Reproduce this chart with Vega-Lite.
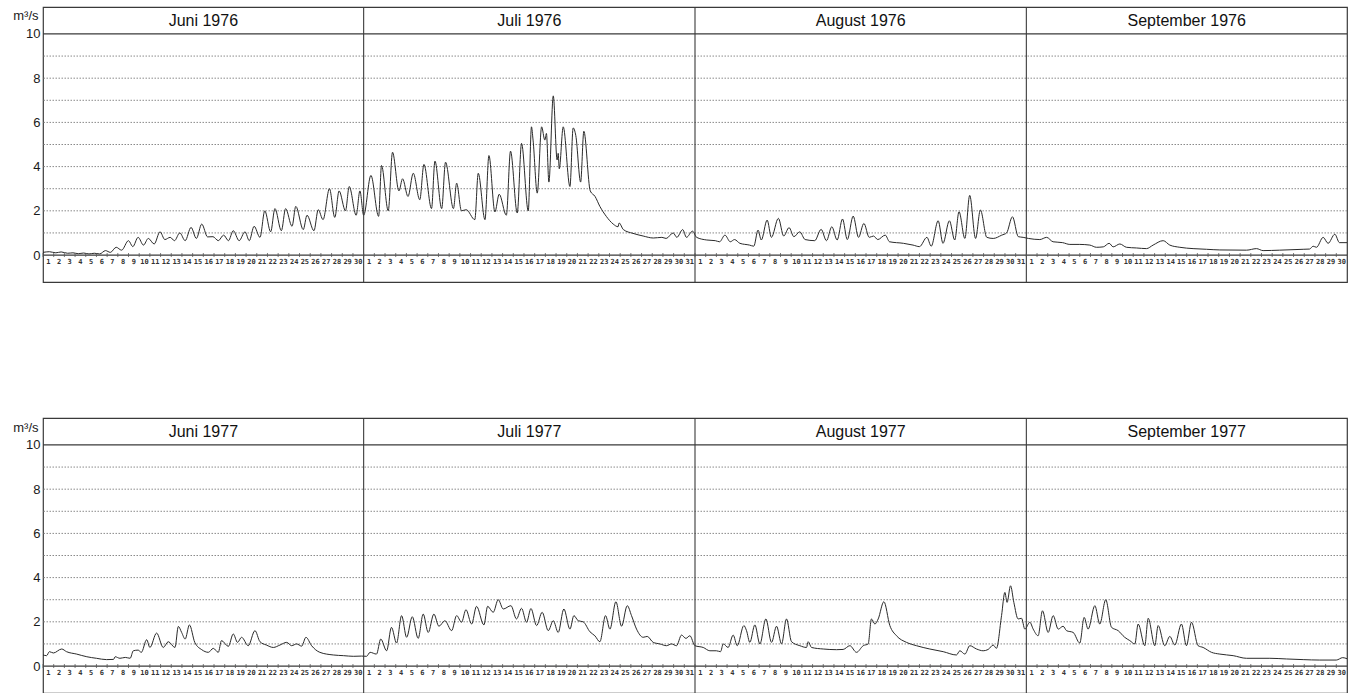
{
  "$schema": "https://vega.github.io/schema/vega-lite/v6.json",
  "background": "white",
  "padding": {"left": 12, "top": 5, "right": 0, "bottom": 0},
  "spacing": 136,
  "bounds": "flush",
  "config": {
    "view": {"stroke": "#3a3a3a", "strokeWidth": 1.2},
    "font": "Liberation Sans"
  },
  "datasets": {
    "tage": [
      {"d":0,"n":1},{"d":1,"n":2},{"d":2,"n":3},{"d":3,"n":4},{"d":4,"n":5},{"d":5,"n":6},{"d":6,"n":7},{"d":7,"n":8},{"d":8,"n":9},{"d":9,"n":10},
      {"d":10,"n":11},{"d":11,"n":12},{"d":12,"n":13},{"d":13,"n":14},{"d":14,"n":15},{"d":15,"n":16},{"d":16,"n":17},{"d":17,"n":18},{"d":18,"n":19},{"d":19,"n":20},
      {"d":20,"n":21},{"d":21,"n":22},{"d":22,"n":23},{"d":23,"n":24},{"d":24,"n":25},{"d":25,"n":26},{"d":26,"n":27},{"d":27,"n":28},{"d":28,"n":29},{"d":29,"n":30},
      {"d":30,"n":1},{"d":31,"n":2},{"d":32,"n":3},{"d":33,"n":4},{"d":34,"n":5},{"d":35,"n":6},{"d":36,"n":7},{"d":37,"n":8},{"d":38,"n":9},{"d":39,"n":10},
      {"d":40,"n":11},{"d":41,"n":12},{"d":42,"n":13},{"d":43,"n":14},{"d":44,"n":15},{"d":45,"n":16},{"d":46,"n":17},{"d":47,"n":18},{"d":48,"n":19},{"d":49,"n":20},
      {"d":50,"n":21},{"d":51,"n":22},{"d":52,"n":23},{"d":53,"n":24},{"d":54,"n":25},{"d":55,"n":26},{"d":56,"n":27},{"d":57,"n":28},{"d":58,"n":29},{"d":59,"n":30},{"d":60,"n":31},
      {"d":61,"n":1},{"d":62,"n":2},{"d":63,"n":3},{"d":64,"n":4},{"d":65,"n":5},{"d":66,"n":6},{"d":67,"n":7},{"d":68,"n":8},{"d":69,"n":9},{"d":70,"n":10},
      {"d":71,"n":11},{"d":72,"n":12},{"d":73,"n":13},{"d":74,"n":14},{"d":75,"n":15},{"d":76,"n":16},{"d":77,"n":17},{"d":78,"n":18},{"d":79,"n":19},{"d":80,"n":20},
      {"d":81,"n":21},{"d":82,"n":22},{"d":83,"n":23},{"d":84,"n":24},{"d":85,"n":25},{"d":86,"n":26},{"d":87,"n":27},{"d":88,"n":28},{"d":89,"n":29},{"d":90,"n":30},{"d":91,"n":31},
      {"d":92,"n":1},{"d":93,"n":2},{"d":94,"n":3},{"d":95,"n":4},{"d":96,"n":5},{"d":97,"n":6},{"d":98,"n":7},{"d":99,"n":8},{"d":100,"n":9},{"d":101,"n":10},
      {"d":102,"n":11},{"d":103,"n":12},{"d":104,"n":13},{"d":105,"n":14},{"d":106,"n":15},{"d":107,"n":16},{"d":108,"n":17},{"d":109,"n":18},{"d":110,"n":19},{"d":111,"n":20},
      {"d":112,"n":21},{"d":113,"n":22},{"d":114,"n":23},{"d":115,"n":24},{"d":116,"n":25},{"d":117,"n":26},{"d":118,"n":27},{"d":119,"n":28},{"d":120,"n":29},{"d":121,"n":30}
    ],
    "monatsgrenzen": [{"d":30},{"d":61},{"d":92}],
    "randlinien": [{"q":0},{"q":10}],
    "gitter": [{"q":1},{"q":2},{"q":3},{"q":4},{"q":5},{"q":6},{"q":7},{"q":8},{"q":9}],
    "monate1976": [
      {"t":"Juni 1976","d":15},{"t":"Juli 1976","d":45.5},{"t":"August 1976","d":76.5},{"t":"September 1976","d":107}
    ],
    "monate1977": [
      {"t":"Juni 1977","d":15},{"t":"Juli 1977","d":45.5},{"t":"August 1977","d":76.5},{"t":"September 1977","d":107}
    ],
    "abfluss1976": [
      {"d":0,"q":0.12},{"d":0.6,"q":0.15},{"d":1.2,"q":0.1},{"d":1.7,"q":0.14},{"d":2.3,"q":0.08},{"d":2.8,"q":0.1},{"d":3.3,"q":0.06},{"d":3.8,"q":0.09},{"d":4.3,"q":0.05},{"d":4.8,"q":0.08},
      {"d":5.3,"q":0.05},{"d":5.85,"q":0.2},{"d":6.3,"q":0.12},{"d":6.85,"q":0.35},{"d":7.35,"q":0.22},{"d":8.0,"q":0.65},{"d":8.4,"q":0.38},{"d":8.9,"q":0.8},{"d":9.4,"q":0.45},{"d":9.85,"q":0.75},
      {"d":10.4,"q":0.5},{"d":10.95,"q":1.05},{"d":11.4,"q":0.7},{"d":11.9,"q":0.8},{"d":12.3,"q":0.65},{"d":12.8,"q":1.0},{"d":13.3,"q":0.65},{"d":13.85,"q":1.25},{"d":14.35,"q":0.75},{"d":14.85,"q":1.4},
      {"d":15.4,"q":0.82},{"d":15.9,"q":0.83},{"d":16.4,"q":0.65},{"d":16.9,"q":0.9},{"d":17.35,"q":0.65},{"d":17.8,"q":1.1},{"d":18.35,"q":0.65},{"d":18.9,"q":1.05},{"d":19.3,"q":0.65},{"d":19.75,"q":1.3},
      {"d":20.3,"q":0.8},{"d":20.75,"q":2.0},{"d":21.3,"q":1.05},{"d":21.7,"q":2.1},{"d":22.3,"q":1.1},{"d":22.7,"q":2.1},{"d":23.3,"q":1.3},{"d":23.65,"q":2.2},{"d":24.35,"q":1.15},{"d":24.7,"q":1.8},
      {"d":25.35,"q":1.1},{"d":25.75,"q":2.05},{"d":26.2,"q":1.6},{"d":26.8,"q":3.0},{"d":27.3,"q":1.7},{"d":27.7,"q":2.9},{"d":28.3,"q":2.0},{"d":28.65,"q":3.1},{"d":29.3,"q":1.8},{"d":29.65,"q":2.9},
      {"d":30.0,"q":1.8},{"d":30.68,"q":3.6},{"d":31.4,"q":1.75},{"d":31.67,"q":4.05},{"d":32.3,"q":2.0},{"d":32.7,"q":4.65},{"d":33.3,"q":2.9},{"d":33.64,"q":3.45},{"d":34.15,"q":2.65},{"d":34.64,"q":3.7},
      {"d":35.25,"q":2.5},{"d":35.64,"q":4.1},{"d":36.35,"q":2.1},{"d":36.67,"q":4.25},{"d":37.3,"q":2.1},{"d":37.66,"q":4.2},{"d":38.4,"q":2.1},{"d":38.7,"q":3.25},{"d":39.15,"q":2.0},{"d":39.6,"q":2.05},
      {"d":40.4,"q":1.6},{"d":40.72,"q":3.7},{"d":41.35,"q":1.6},{"d":41.72,"q":4.5},{"d":42.28,"q":1.95},{"d":42.68,"q":2.75},{"d":43.35,"q":1.8},{"d":43.74,"q":4.7},{"d":44.37,"q":1.9},{"d":44.77,"q":5.05},
      {"d":45.4,"q":2.0},{"d":45.7,"q":5.8},{"d":45.85,"q":5.2},{"d":46.24,"q":2.8},{"d":46.65,"q":5.8},{"d":46.95,"q":5.2},{"d":47.1,"q":5.5},{"d":47.33,"q":3.3},{"d":47.74,"q":7.2},{"d":48.1,"q":4.3},
      {"d":48.2,"q":4.6},{"d":48.3,"q":3.9},{"d":48.67,"q":5.8},{"d":49.3,"q":3.1},{"d":49.6,"q":5.75},{"d":49.85,"q":5.4},{"d":50.3,"q":3.3},{"d":50.6,"q":5.6},{"d":51.2,"q":2.9},{"d":51.65,"q":2.65},
      {"d":52.1,"q":2.2},{"d":52.7,"q":1.75},{"d":53.35,"q":1.4},{"d":53.8,"q":1.28},{"d":53.9,"q":1.45},{"d":54.3,"q":1.15},{"d":55.2,"q":0.98},{"d":56.15,"q":0.86},{"d":57.1,"q":0.77},{"d":57.9,"q":0.8},
      {"d":58.3,"q":0.75},{"d":58.96,"q":1.0},{"d":59.3,"q":0.8},{"d":59.85,"q":1.15},{"d":60.2,"q":0.8},{"d":60.77,"q":1.08},{"d":61.15,"q":0.8},{"d":62.1,"q":0.68},{"d":62.9,"q":0.65},{"d":63.3,"q":0.6},
      {"d":63.8,"q":0.9},{"d":64.3,"q":0.6},{"d":64.7,"q":0.7},{"d":65.2,"q":0.53},{"d":66.1,"q":0.45},{"d":66.5,"q":0.4},{"d":66.9,"q":1.13},{"d":67.2,"q":0.68},{"d":67.75,"q":1.58},{"d":68.15,"q":0.8},
      {"d":68.8,"q":1.66},{"d":69.3,"q":0.86},{"d":69.8,"q":1.24},{"d":70.25,"q":0.83},{"d":70.8,"q":1.05},{"d":71.3,"q":0.7},{"d":72.2,"q":0.65},{"d":72.8,"q":1.16},{"d":73.3,"q":0.65},{"d":73.8,"q":1.28},
      {"d":74.3,"q":0.68},{"d":74.8,"q":1.63},{"d":75.25,"q":0.7},{"d":75.8,"q":1.76},{"d":76.3,"q":0.8},{"d":76.8,"q":1.43},{"d":77.3,"q":0.8},{"d":77.7,"q":0.86},{"d":78.1,"q":0.7},{"d":78.8,"q":0.9},
      {"d":79.2,"q":0.6},{"d":80.5,"q":0.53},{"d":81.4,"q":0.45},{"d":82.0,"q":0.38},{"d":82.7,"q":0.8},{"d":83.1,"q":0.4},{"d":83.75,"q":1.55},{"d":84.2,"q":0.53},{"d":84.8,"q":1.55},{"d":85.3,"q":0.68},
      {"d":85.7,"q":1.96},{"d":86.25,"q":0.75},{"d":86.7,"q":2.7},{"d":87.25,"q":0.75},{"d":87.7,"q":2.04},{"d":88.3,"q":0.8},{"d":88.9,"q":0.75},{"d":89.7,"q":0.9},{"d":90.15,"q":1.0},{"d":90.7,"q":1.73},
      {"d":91.25,"q":0.83},{"d":91.7,"q":0.8},{"d":92.2,"q":0.75},{"d":93.26,"q":0.7},{"d":93.9,"q":0.8},{"d":94.5,"q":0.6},{"d":95.4,"q":0.56},{"d":96.07,"q":0.48},{"d":97.0,"q":0.48},{"d":97.94,"q":0.45},
      {"d":98.56,"q":0.35},{"d":99.2,"q":0.37},{"d":99.75,"q":0.53},{"d":100.12,"q":0.37},{"d":100.75,"q":0.5},{"d":101.37,"q":0.35},{"d":102.3,"q":0.32},{"d":103.24,"q":0.29},{"d":103.86,"q":0.45},{"d":104.8,"q":0.65},
      {"d":105.42,"q":0.45},{"d":106.36,"q":0.35},{"d":107.6,"q":0.29},{"d":108.85,"q":0.26},{"d":110.1,"q":0.23},{"d":112.6,"q":0.22},{"d":113.53,"q":0.29},{"d":114.15,"q":0.2},{"d":115.7,"q":0.22},{"d":117.9,"q":0.26},
      {"d":118.5,"q":0.27},{"d":118.83,"q":0.4},{"d":119.14,"q":0.35},{"d":119.77,"q":0.8},{"d":120.23,"q":0.53},{"d":120.86,"q":0.94},{"d":121.3,"q":0.56},{"d":122.0,"q":0.56}
    ],
    "abfluss1977": [
      {"d":0,"q":0.5},{"d":0.34,"q":0.47},{"d":0.6,"q":0.65},{"d":0.97,"q":0.59},{"d":1.75,"q":0.77},{"d":2.2,"q":0.65},{"d":3.15,"q":0.54},{"d":4.1,"q":0.42},{"d":5.0,"q":0.35},{"d":5.95,"q":0.29},
      {"d":6.6,"q":0.3},{"d":6.75,"q":0.42},{"d":7.2,"q":0.35},{"d":7.7,"q":0.39},{"d":8.15,"q":0.35},{"d":8.45,"q":0.69},{"d":8.9,"q":0.72},{"d":9.2,"q":0.62},{"d":9.7,"q":1.19},{"d":10.0,"q":0.84},
      {"d":10.63,"q":1.49},{"d":11.25,"q":0.84},{"d":11.72,"q":1.1},{"d":12.35,"q":0.84},{"d":12.66,"q":1.79},{"d":12.97,"q":1.52},{"d":13.3,"q":1.22},{"d":13.7,"q":1.86},{"d":14.2,"q":1.07},{"d":14.85,"q":0.74},
      {"d":15.47,"q":0.62},{"d":15.93,"q":0.8},{"d":16.4,"q":0.62},{"d":16.7,"q":1.15},{"d":17.34,"q":0.89},{"d":17.8,"q":1.45},{"d":18.2,"q":1.07},{"d":18.58,"q":1.3},{"d":19.2,"q":0.92},{"d":19.83,"q":1.6},
      {"d":20.3,"q":1.1},{"d":20.9,"q":0.95},{"d":21.55,"q":0.84},{"d":22.17,"q":0.95},{"d":22.8,"q":1.07},{"d":23.26,"q":0.92},{"d":23.73,"q":1.0},{"d":24.2,"q":0.9},{"d":24.6,"q":1.3},{"d":25.13,"q":0.92},
      {"d":25.9,"q":0.62},{"d":27.16,"q":0.5},{"d":28.1,"q":0.47},{"d":29.03,"q":0.44},{"d":29.8,"q":0.45},{"d":30.27,"q":0.44},{"d":30.6,"q":0.62},{"d":31.2,"q":0.54},{"d":31.6,"q":1.22},{"d":32.15,"q":0.69},
      {"d":32.6,"q":1.75},{"d":33.08,"q":1.04},{"d":33.55,"q":2.28},{"d":34.02,"q":1.3},{"d":34.55,"q":2.23},{"d":35.1,"q":1.25},{"d":35.57,"q":2.35},{"d":36.04,"q":1.52},{"d":36.57,"q":2.35},{"d":37.04,"q":1.8},
      {"d":37.6,"q":2.05},{"d":38.23,"q":1.6},{"d":38.7,"q":2.28},{"d":39.16,"q":1.98},{"d":39.57,"q":2.55},{"d":40.1,"q":1.9},{"d":40.56,"q":2.7},{"d":41.25,"q":1.86},{"d":41.6,"q":2.7},{"d":42.12,"q":2.43},
      {"d":42.59,"q":3.0},{"d":43.06,"q":2.58},{"d":43.78,"q":2.73},{"d":44.3,"q":2.13},{"d":44.77,"q":2.61},{"d":45.24,"q":1.98},{"d":45.65,"q":2.6},{"d":46.18,"q":1.83},{"d":46.7,"q":2.43},{"d":47.27,"q":1.6},
      {"d":47.74,"q":2.05},{"d":48.2,"q":1.52},{"d":48.73,"q":2.58},{"d":49.3,"q":1.67},{"d":49.67,"q":2.28},{"d":50.07,"q":2.05},{"d":50.54,"q":2.0},{"d":51.17,"q":1.55},{"d":51.63,"q":1.37},{"d":52.1,"q":1.1},
      {"d":52.63,"q":2.28},{"d":53.04,"q":1.67},{"d":53.6,"q":2.91},{"d":54.13,"q":1.8},{"d":54.66,"q":2.73},{"d":55.06,"q":2.28},{"d":55.53,"q":1.67},{"d":56.15,"q":1.3},{"d":56.53,"q":1.34},{"d":57.09,"q":1.07},
      {"d":57.71,"q":1.0},{"d":58.34,"q":0.92},{"d":58.8,"q":1.0},{"d":59.27,"q":0.92},{"d":59.74,"q":1.4},{"d":60.15,"q":1.25},{"d":60.52,"q":1.37},{"d":60.99,"q":0.92},{"d":61.77,"q":0.84},{"d":62.39,"q":0.69},
      {"d":63.0,"q":0.69},{"d":63.39,"q":0.65},{"d":63.64,"q":1.0},{"d":64.1,"q":0.84},{"d":64.57,"q":1.4},{"d":64.95,"q":0.92},{"d":65.57,"q":1.83},{"d":65.82,"q":1.6},{"d":66.13,"q":1.07},{"d":66.6,"q":1.86},
      {"d":67.07,"q":1.0},{"d":67.63,"q":2.13},{"d":68.16,"q":1.07},{"d":68.63,"q":1.8},{"d":69.1,"q":1.0},{"d":69.56,"q":2.13},{"d":70.03,"q":1.1},{"d":70.81,"q":0.92},{"d":71.43,"q":0.84},{"d":71.59,"q":1.1},
      {"d":71.9,"q":0.84},{"d":73.0,"q":0.77},{"d":74.24,"q":0.74},{"d":74.86,"q":0.75},{"d":75.49,"q":0.92},{"d":76.11,"q":0.62},{"d":76.74,"q":0.92},{"d":77.2,"q":1.0},{"d":77.51,"q":2.13},{"d":77.83,"q":1.9},
      {"d":78.14,"q":2.13},{"d":78.67,"q":2.91},{"d":79.23,"q":1.83},{"d":79.85,"q":1.37},{"d":80.79,"q":1.07},{"d":81.72,"q":0.92},{"d":82.97,"q":0.77},{"d":84.22,"q":0.65},{"d":85.46,"q":0.5},{"d":85.78,"q":0.69},
      {"d":86.25,"q":0.54},{"d":86.71,"q":0.92},{"d":87.34,"q":0.77},{"d":87.96,"q":0.69},{"d":88.43,"q":0.75},{"d":88.9,"q":0.95},{"d":89.2,"q":0.8},{"d":89.68,"q":2.28},{"d":89.99,"q":3.33},{"d":90.2,"q":2.88},
      {"d":90.52,"q":3.63},{"d":90.83,"q":2.88},{"d":91.23,"q":2.13},{"d":91.55,"q":2.16},{"d":91.86,"q":1.67},{"d":92.33,"q":1.98},{"d":92.64,"q":1.67},{"d":93.1,"q":1.37},{"d":93.51,"q":2.5},{"d":94.04,"q":1.52},
      {"d":94.51,"q":2.28},{"d":94.98,"q":1.67},{"d":95.44,"q":1.8},{"d":95.76,"q":1.6},{"d":96.38,"q":1.52},{"d":97.0,"q":1.04},{"d":97.41,"q":2.2},{"d":97.78,"q":1.67},{"d":98.41,"q":2.73},{"d":98.87,"q":1.9},
      {"d":99.43,"q":3.0},{"d":99.97,"q":1.75},{"d":100.59,"q":1.6},{"d":101.2,"q":1.3},{"d":101.68,"q":1.15},{"d":102.15,"q":1.0},{"d":102.46,"q":1.9},{"d":103.08,"q":0.92},{"d":103.4,"q":2.16},{"d":104.02,"q":0.92},
      {"d":104.33,"q":1.83},{"d":104.95,"q":0.92},{"d":105.42,"q":1.34},{"d":105.89,"q":0.95},{"d":106.51,"q":1.9},{"d":106.98,"q":0.92},{"d":107.45,"q":1.98},{"d":108.07,"q":0.92},{"d":108.54,"q":0.84},{"d":109.32,"q":0.62},
      {"d":110.1,"q":0.54},{"d":111.35,"q":0.47},{"d":112.59,"q":0.35},{"d":114.78,"q":0.35},{"d":116.33,"q":0.32},{"d":117.9,"q":0.29},{"d":119.45,"q":0.27},{"d":121.0,"q":0.27},{"d":121.6,"q":0.38},{"d":122.0,"q":0.33}
    ]
  },
  "vconcat": [
    {
      "width": 1304,
      "height": 275,
      "layer": [
        {
          "data": {"name": "gitter"},
          "mark": {"type": "rule", "color": "#8a8a8a", "strokeWidth": 1, "strokeDash": [1.5, 1.5]},
          "encoding": {"y": {"field": "q", "type": "quantitative"}}
        },
        {
          "data": {"name": "abfluss1976"},
          "mark": {"type": "line", "color": "#2a2a2a", "strokeWidth": 1, "interpolate": "monotone"},
          "encoding": {
            "x": {"field": "d", "type": "quantitative", "scale": {"domain": [0, 122], "nice": false, "zero": false}, "axis": null},
            "y": {
              "field": "q", "type": "quantitative",
              "scale": {"domain": [-1.22, 11.22], "nice": false, "zero": false},
              "axis": {
                "values": [0, 2, 4, 6, 8, 10],
                "grid": false, "ticks": false, "domain": false,
                "labelFont": "Liberation Sans", "labelFontSize": 13, "labelColor": "#1a1a1a", "labelPadding": 3,
                "title": "m³/s", "titleAngle": 0, "titleAlign": "right", "titleBaseline": "middle",
                "titleX": -5, "titleY": 8, "titleFont": "Liberation Sans", "titleFontSize": 13, "titleFontWeight": "normal", "titleColor": "#1a1a1a"
              }
            }
          }
        },
        {
          "data": {"name": "randlinien"},
          "mark": {"type": "rule", "color": "#3a3a3a", "strokeWidth": 1.2},
          "encoding": {"y": {"field": "q", "type": "quantitative"}}
        },
        {
          "data": {"name": "monatsgrenzen"},
          "mark": {"type": "rule", "color": "#3a3a3a", "strokeWidth": 1.1},
          "encoding": {"x": {"field": "d", "type": "quantitative", "axis": null}}
        },
        {
          "data": {"name": "tage"},
          "mark": {"type": "rule", "color": "#555555", "strokeWidth": 0.8},
          "encoding": {
            "x": {"field": "d", "type": "quantitative", "axis": null},
            "y": {"datum": 0.09},
            "y2": {"datum": -0.09}
          }
        },
        {
          "data": {"name": "tage"},
          "mark": {"type": "text", "font": "DejaVu Sans Mono", "fontSize": 7, "fontWeight": "bold", "color": "#333333", "dx": 5.35, "align": "center", "baseline": "middle"},
          "encoding": {
            "x": {"field": "d", "type": "quantitative", "axis": null},
            "y": {"datum": -0.3},
            "text": {"field": "n", "type": "nominal"}
          }
        },
        {
          "data": {"name": "monate1976"},
          "mark": {"type": "text", "font": "Liberation Sans", "fontSize": 16, "color": "#111111", "align": "center", "baseline": "middle"},
          "encoding": {
            "x": {"field": "d", "type": "quantitative", "axis": null},
            "y": {"datum": 10.6},
            "text": {"field": "t", "type": "nominal"}
          }
        }
      ]
    },
    {
      "width": 1304,
      "height": 275,
      "layer": [
        {
          "data": {"name": "gitter"},
          "mark": {"type": "rule", "color": "#8a8a8a", "strokeWidth": 1, "strokeDash": [1.5, 1.5]},
          "encoding": {"y": {"field": "q", "type": "quantitative"}}
        },
        {
          "data": {"name": "abfluss1977"},
          "mark": {"type": "line", "color": "#2a2a2a", "strokeWidth": 1, "interpolate": "monotone"},
          "encoding": {
            "x": {"field": "d", "type": "quantitative", "scale": {"domain": [0, 122], "nice": false, "zero": false}, "axis": null},
            "y": {
              "field": "q", "type": "quantitative",
              "scale": {"domain": [-1.22, 11.22], "nice": false, "zero": false},
              "axis": {
                "values": [0, 2, 4, 6, 8, 10],
                "grid": false, "ticks": false, "domain": false,
                "labelFont": "Liberation Sans", "labelFontSize": 13, "labelColor": "#1a1a1a", "labelPadding": 3,
                "title": "m³/s", "titleAngle": 0, "titleAlign": "right", "titleBaseline": "middle",
                "titleX": -5, "titleY": 9, "titleFont": "Liberation Sans", "titleFontSize": 13, "titleFontWeight": "normal", "titleColor": "#1a1a1a"
              }
            }
          }
        },
        {
          "data": {"name": "randlinien"},
          "mark": {"type": "rule", "color": "#3a3a3a", "strokeWidth": 1.2},
          "encoding": {"y": {"field": "q", "type": "quantitative"}}
        },
        {
          "data": {"name": "monatsgrenzen"},
          "mark": {"type": "rule", "color": "#3a3a3a", "strokeWidth": 1.1},
          "encoding": {"x": {"field": "d", "type": "quantitative", "axis": null}}
        },
        {
          "data": {"name": "tage"},
          "mark": {"type": "rule", "color": "#555555", "strokeWidth": 0.8},
          "encoding": {
            "x": {"field": "d", "type": "quantitative", "axis": null},
            "y": {"datum": 0.09},
            "y2": {"datum": -0.09}
          }
        },
        {
          "data": {"name": "tage"},
          "mark": {"type": "text", "font": "DejaVu Sans Mono", "fontSize": 7, "fontWeight": "bold", "color": "#333333", "dx": 5.35, "align": "center", "baseline": "middle"},
          "encoding": {
            "x": {"field": "d", "type": "quantitative", "axis": null},
            "y": {"datum": -0.3},
            "text": {"field": "n", "type": "nominal"}
          }
        },
        {
          "data": {"name": "monate1977"},
          "mark": {"type": "text", "font": "Liberation Sans", "fontSize": 16, "color": "#111111", "align": "center", "baseline": "middle"},
          "encoding": {
            "x": {"field": "d", "type": "quantitative", "axis": null},
            "y": {"datum": 10.6},
            "text": {"field": "t", "type": "nominal"}
          }
        }
      ]
    }
  ]
}
